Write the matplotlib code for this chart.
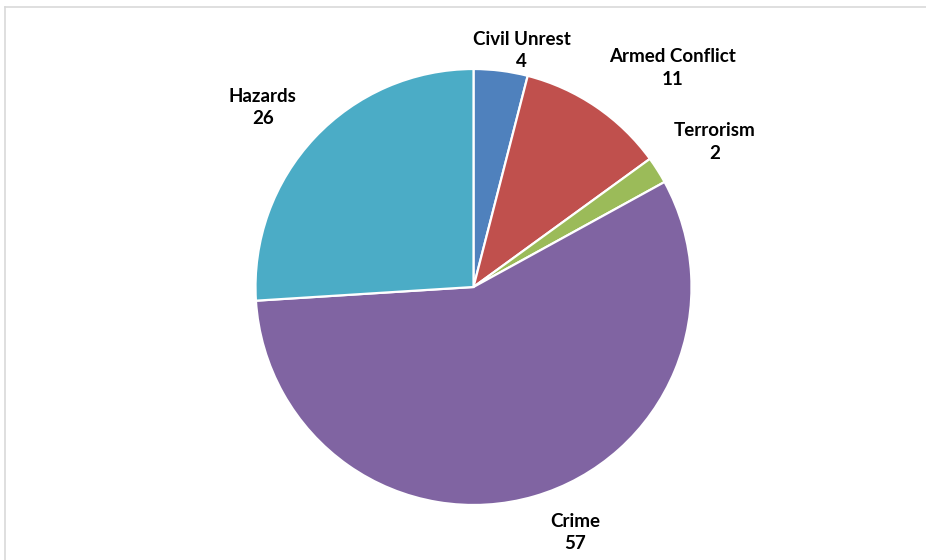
import matplotlib
matplotlib.use("Agg")
import matplotlib.pyplot as plt
from matplotlib.lines import Line2D

categories = ["Civil Unrest", "Armed Conflict", "Terrorism", "Crime", "Hazards"]
values = [4, 11, 2, 57, 26]
colors = ["#4F81BD", "#C0504D", "#9BBB59", "#8064A2", "#4BACC6"]

# label block centres, in pie-radius units
label_pos = [(0.222, 1.085), (0.915, 1.005), (1.108, 0.665),
             (0.466, -1.126), (-0.966, 0.823)]

fig = plt.figure(figsize=(9.26, 5.6), dpi=100)

# chart frame (top and left edges visible)
fig.add_artist(Line2D([5 / 926, 5 / 926], [0, 1 - 7 / 560], color="#D9D9D9", lw=1.2))
fig.add_artist(Line2D([5 / 926, 1], [1 - 7 / 560, 1 - 7 / 560], color="#D9D9D9", lw=1.2))

cx, cy, r = 473.5, 560 - 287, 218
ax = fig.add_axes([(cx - r) / 926, (cy - r) / 560, 2 * r / 926, 2 * r / 560])

ax.pie(values, colors=colors, startangle=90, counterclock=False,
       radius=1, wedgeprops=dict(edgecolor="white", linewidth=1.6))
ax.set_xlim(-1, 1)
ax.set_ylim(-1, 1)
ax.set_aspect("equal")
ax.axis("off")

for name, v, (x, y) in zip(categories, values, label_pos):
    ax.text(x, y, "{}\n{}".format(name, v), ha="center", va="center",
            fontsize=13.5, fontweight="bold", family="Lato",
            linespacing=1.38, clip_on=False, color="#000000")

plt.savefig("out.png", dpi=100)
